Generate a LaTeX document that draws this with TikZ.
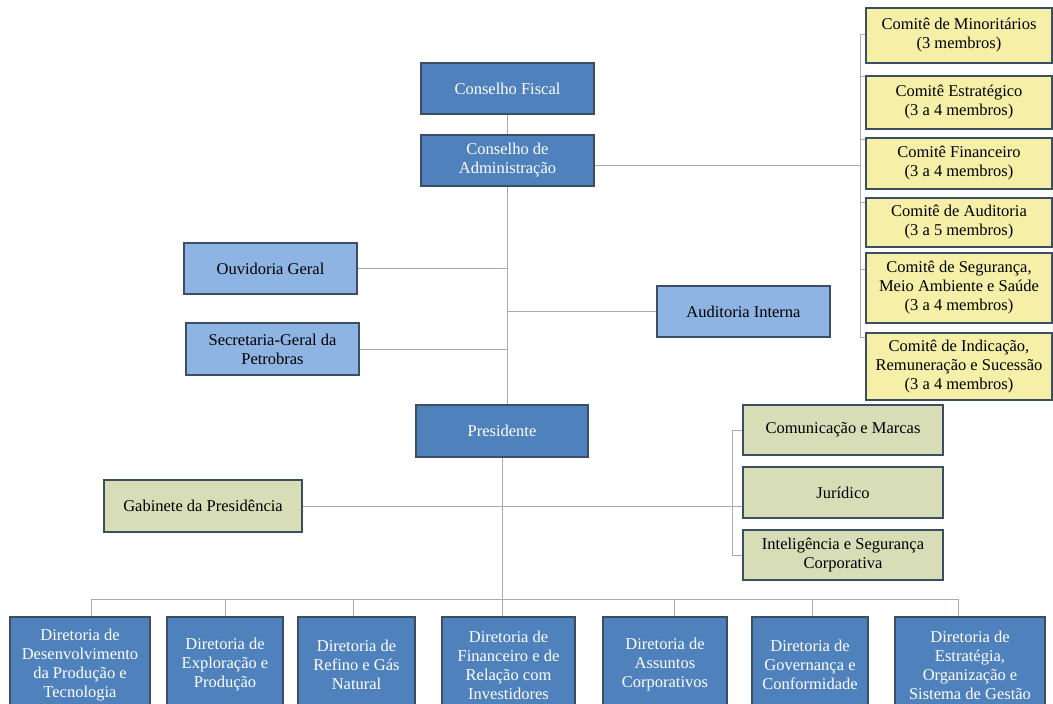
\documentclass[tikz,border=0pt]{standalone}
\usepackage{fontspec}
\setmainfont{Liberation Serif}
\usetikzlibrary{calc, positioning}
\definecolor{darkblue}{HTML}{4F81BD}
\definecolor{lightblue}{HTML}{8EB4E3}
\definecolor{paleyellow}{HTML}{F5EFA8}
\definecolor{palegreen}{HTML}{D7DDB6}
\definecolor{boxedge}{HTML}{3B4E62}
\definecolor{linkgrey}{HTML}{A3ADB8}
\tikzset{
    border/.style = {
        draw=boxedge, rectangle, line width=1.5pt, align=center, inner sep=2pt,
        font=\fontsize{16.5}{19}\selectfont
    },
    darkbox/.style = {border, fill=darkblue, text=white},
    lightbox/.style = {border, fill=lightblue},
    yellowbox/.style = {border, fill=paleyellow},
    greenbox/.style = {border, fill=palegreen},
    boxsize/.style 2 args = {minimum width=#1pt, minimum height=#2pt},
    link/.style = {draw=linkgrey, line width=0.9pt}
}

\begin{document}
\begin{tikzpicture}[x=1pt, y=-1pt]
        \clip (0, 0) rectangle (1053, 704);
        \fill[white] (0, 0) rectangle (1053, 704);

        % Councils and president
        \node[darkbox, boxsize={173}{51}] (fiscal) at (507.5, 88.5) {Conselho Fiscal};
        \node[darkbox, boxsize={173}{51}] (conselho) at (507.5, 160.5) {Conselho de\\Administração};
        \node[darkbox, boxsize={172}{52}] (presidente) at (502, 431) {Presidente};

        % Staff of the board
        \node[lightbox, boxsize={173}{51}] (ouvidoria) at (270.5, 268.5) {Ouvidoria Geral};
        \node[lightbox, boxsize={173}{52}] (secretaria) at (272.5, 349) {Secretaria-Geral da\\Petrobras};
        \node[lightbox, boxsize={173}{51}] (auditoria) at (743.5, 311.5) {Auditoria Interna};

        % Committees
        \node[yellowbox, boxsize={186}{55}] (c1) at (959, 35.5) {Comitê de Minoritários\\(3 membros)};
        \node[yellowbox, boxsize={186}{53}] (c2) at (959, 102.5) {Comitê Estratégico\\(3 a 4 membros)};
        \node[yellowbox, boxsize={186}{51}] (c3) at (959, 163.5) {Comitê Financeiro\\(3 a 4 membros)};
        \node[yellowbox, boxsize={186}{49}] (c4) at (959, 222.5) {Comitê de Auditoria\\(3 a 5 membros)};
        \node[yellowbox, boxsize={186}{70}] (c5) at (959, 288) {Comitê de Segurança,\\Meio Ambiente e Saúde\\(3 a 4 membros)};
        \node[yellowbox, boxsize={186}{67}] (c6) at (959, 366.5) {Comitê de Indicação,\\Remuneração e Sucessão\\(3 a 4 membros)};

        % Staff of the president
        \node[greenbox, boxsize={198}{52}] (gabinete) at (203, 506) {Gabinete da Presidência};
        \node[greenbox, boxsize={200}{50}] (comunicacao) at (843, 430) {Comunicação e Marcas};
        \node[greenbox, boxsize={200}{51}] (juridico) at (843, 492.5) {Jurídico};
        \node[greenbox, boxsize={200}{50}] (inteligencia) at (843, 555) {Inteligência e Segurança\\Corporativa};

        % Directorates
        \node[darkbox, boxsize={140}{96}] (d1) at (80, 665) {Diretoria de\\Desenvolvimento\\da Produção e\\Tecnologia};
        \node[darkbox, boxsize={116}{96}] (d2) at (225, 665) {Diretoria de\\Exploração e\\Produção};
        \node[darkbox, boxsize={117}{96}] (d3) at (356.5, 665) {Diretoria de\\Refino e Gás\\Natural};
        \node[darkbox, boxsize={133}{96}] (d4) at (508.5, 665) {Diretoria de\\Financeiro e de\\Relação com\\Investidores};
        \node[darkbox, boxsize={124}{96}] (d5) at (665, 665) {Diretoria de\\Assuntos\\Corporativos};
        \node[darkbox, boxsize={116}{96}] (d6) at (810, 665) {Diretoria de\\Governança e\\Conformidade};
        \node[darkbox, boxsize={150}{96}] (d7) at (970, 665) {Diretoria de\\Estratégia,\\Organização e\\Sistema de Gestão};

        % Connectors
        \coordinate (combus) at (860, 0);
        \coordinate (grnbus) at (732, 0);
        \coordinate (dirbus) at (0, 599);
        \draw[link] (fiscal) -- (conselho);
        \draw[link] (conselho.south) -- (conselho.south |- presidente.north);
        \draw[link] (ouvidoria.east) -- (ouvidoria.east -| conselho.south);
        \draw[link] (secretaria.east) -- (secretaria.east -| conselho.south);
        \draw[link] (auditoria.west) -- (auditoria.west -| conselho.south);
        \coordinate (conselho-r) at ([yshift=-4.5pt]conselho.east);
        \draw[link] (conselho-r) -- (conselho-r -| combus);
        \foreach \n/\d in {c1/27.5, c2/1, c3/2, c4/5, c5/17, c6/5}{
            \coordinate (\n-t) at ([yshift=-\d pt]\n.north west);
            \draw[link] (\n-t) -- (\n-t -| combus);
        }
        \draw[link] (c1-t -| combus) -- (c6-t -| combus);

        \draw[link] (gabinete.east) -- (gabinete.east -| juridico.west);
        \foreach \n in {comunicacao, inteligencia}{
            \draw[link] (\n.west) -- (\n.west -| grnbus);
        }
        \draw[link] (comunicacao.west -| grnbus) -- (inteligencia.west -| grnbus);

        \draw[link] (presidente.south) -- (presidente.south |- dirbus);
        \foreach \n/\s in {d1/11, d2/0, d3/-3.5, d4/-6.5, d5/9, d6/2, d7/-12}{
            \coordinate (\n-t) at ([xshift=\s pt]\n.north);
            \draw[link] (\n-t) -- (\n-t |- dirbus);
        }
        \draw[link] (d1-t |- dirbus) -- (d7-t |- dirbus);

\end{tikzpicture}
\end{document}
